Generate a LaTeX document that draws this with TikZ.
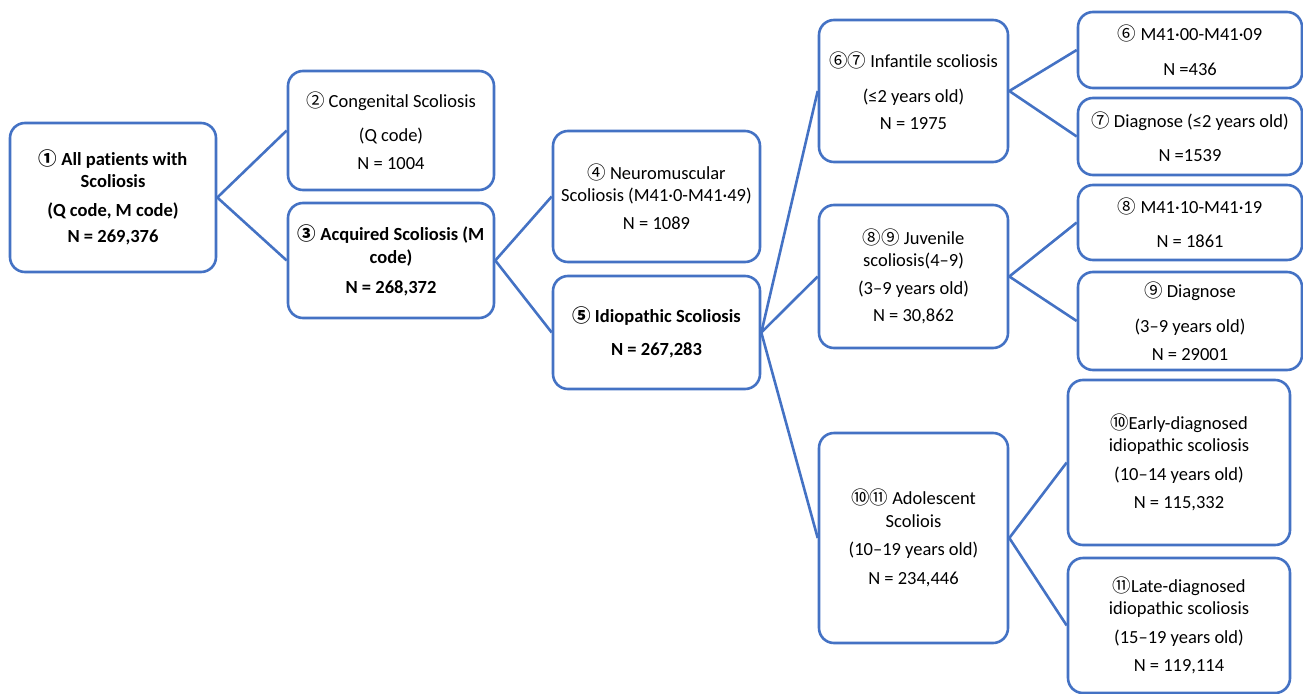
\documentclass[tikz,border=0pt]{standalone}
\usepackage{fontspec}
\setmainfont[Ligatures=CommonOff]{Carlito}
\newfontfamily\cjk{Noto Sans CJK SC}
\newcommand{\cn}[1]{{\cjk #1}}
\definecolor{bl}{HTML}{4472C4}
\begin{document}
\begin{tikzpicture}[x=1pt,y=-1pt,
  box/.style={draw=bl,line width=2.6pt,rounded corners=15pt,fill=white,align=center,inner sep=2pt,
    font=\fontsize{18.5}{22.5}\selectfont},
  bbox/.style={box,font=\fontsize{18.5}{22.5}\selectfont\bfseries},
  conn/.style={draw=bl,line width=2.6pt}]
\useasboundingbox (0,0) rectangle (1303,693);
\node[bbox,minimum width=206pt,minimum height=149pt] (b1) at (113,197.5)
  {\cn{①} All patients with\\Scoliosis\\[6pt](Q code, M code)\\[4pt]N = 269,376};
\node[box,minimum width=206pt,minimum height=119pt] (b2) at (391,130.5)
  {\cn{②} Congenital Scoliosis\\[12pt](Q code)\\[5pt]N = 1004};
\node[bbox,minimum width=206pt,minimum height=115pt] (b3) at (391,260.5)
  {\cn{③} Acquired Scoliosis (M\\code)\\[8pt]N = 268,372};
\node[box,minimum width=207pt,minimum height=131pt] (b4) at (656.5,196.5)
  {\cn{④} Neuromuscular\\Scoliosis (M41·0-M41·49)\\[5pt]N = 1089};
\node[bbox,minimum width=207pt,minimum height=113pt] (b5) at (656.5,332.5)
  {\cn{⑤} Idiopathic Scoliosis\\[11pt]N = 267,283};
\node[box,minimum width=189pt,minimum height=142pt] (inf) at (913.5,91)
  {\cn{⑥⑦} Infantile scoliosis\\[12pt](≤2 years old)\\[5pt]N = 1975};
\node[box,minimum width=224pt,minimum height=76pt] (b6) at (1190,50)
  {\cn{⑥} M41·00-M41·09\\[12pt]N =436};
\node[box,minimum width=224pt,minimum height=77pt] (b7) at (1190,136.5)
  {\cn{⑦} Diagnose (≤2 years old)\\[11pt]N =1539};
\node[box,minimum width=189pt,minimum height=143pt] (juv) at (913.5,276.5)
  {\cn{⑧⑨} Juvenile\\scoliosis(4–9)\\[5pt](3–9 years old)\\[5pt]N = 30,862};
\node[box,minimum width=224pt,minimum height=75pt] (b8) at (1190,222.5)
  {\cn{⑧} M41·10-M41·19\\[11pt]N = 1861};
\node[box,minimum width=224pt,minimum height=98pt] (b9) at (1190,321)
  {\cn{⑨} Diagnose\\[13pt](3–9 years old)\\[5pt]N = 29001};
\node[box,minimum width=189pt,minimum height=210pt] (ado) at (913.5,538)
  {\cn{⑩⑪} Adolescent\\Scoliois\\[6pt](10–19 years old)\\[6pt]N = 234,446};
\node[box,minimum width=222pt,minimum height=165pt] (b10) at (1179,462.5)
  {\cn{⑩}Early-diagnosed\\idiopathic scoliosis\\[6pt](10–14 years old)\\[6pt]N = 115,332};
\node[box,minimum width=222pt,minimum height=135pt] (b11) at (1179,625.5)
  {\cn{⑪}Late-diagnosed\\idiopathic scoliosis\\[6pt](15–19 years old)\\[6pt]N = 119,114};
\draw[conn] (b2.west) -- (b1.east) -- (b3.west);
\draw[conn] (b4.west) -- (b3.east) -- (b5.west);
\draw[conn] (inf.west) -- (b5.east) -- (juv.west);
\draw[conn] (b5.east) -- (ado.west);
\draw[conn] (b6.west) -- (inf.east) -- (b7.west);
\draw[conn] (b8.west) -- (juv.east) -- (b9.west);
\draw[conn] (b10.west) -- (ado.east) -- (b11.west);
\end{tikzpicture}
\end{document}
